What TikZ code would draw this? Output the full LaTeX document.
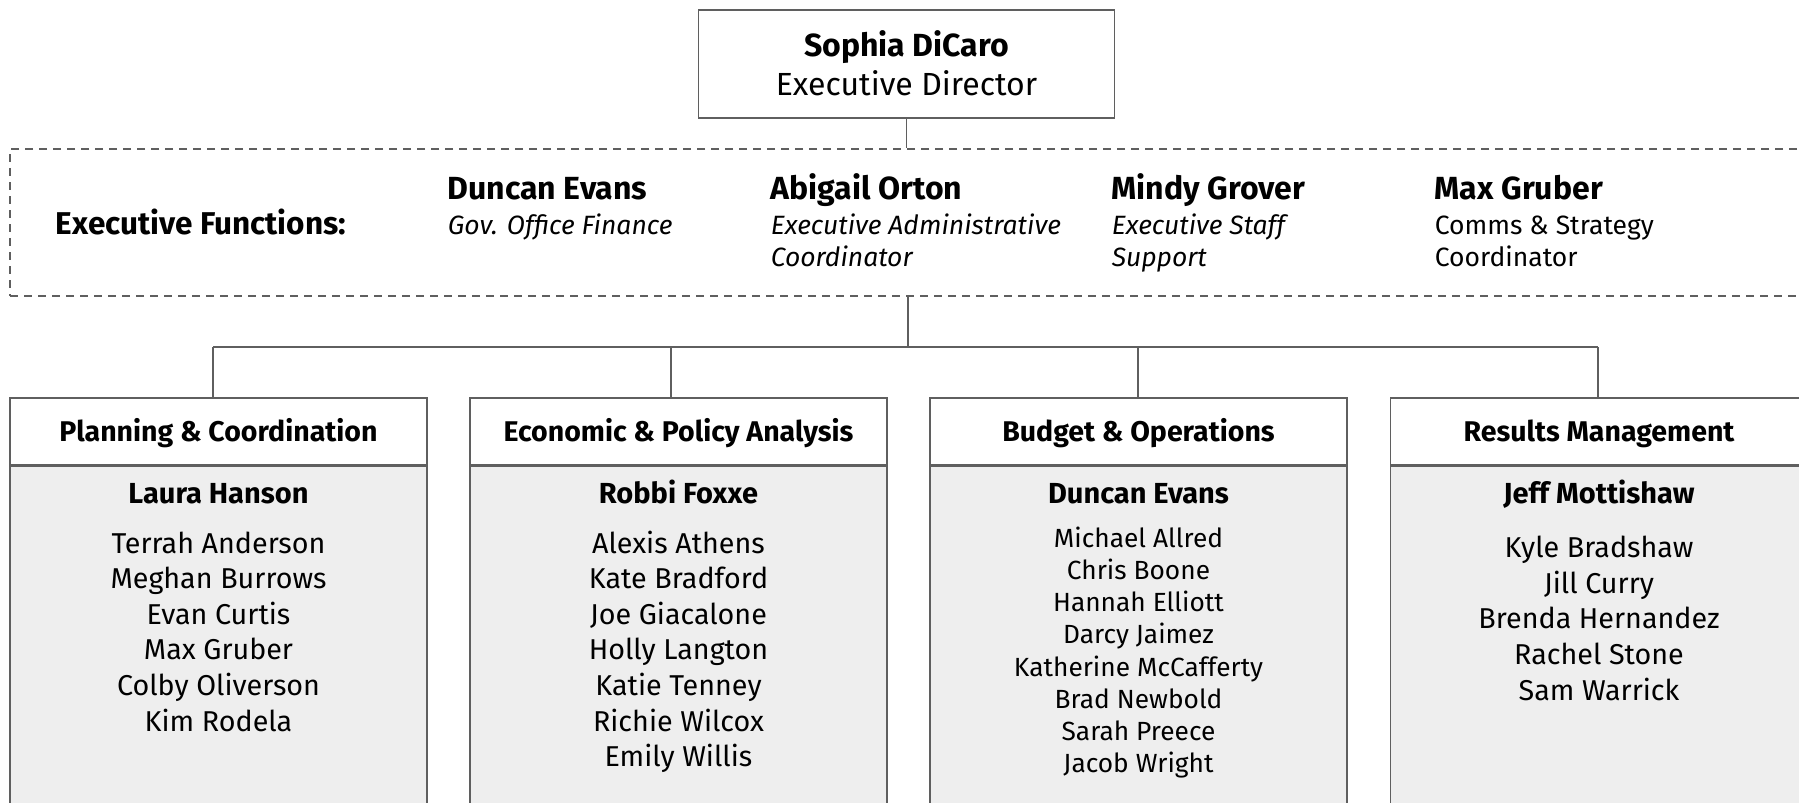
\documentclass[tikz,border=0pt]{standalone}
\usepackage{fontspec}
\setmainfont{Fira Sans}
\usetikzlibrary{positioning}
\definecolor{linegray}{HTML}{5F5F5F}
\definecolor{bodygray}{HTML}{EEEEEE}

\begin{document}
\begin{tikzpicture}[x=1pt, y=-1pt, line width=1.6pt,
    frame/.style={draw=linegray, inner sep=0pt},
    txt/.style={inner sep=0pt, text height=0.7em, text depth=0pt, yshift=-7pt},
    head/.style={frame, minimum width=417pt, minimum height=67pt, text height=20pt, text depth=0pt,
        font=\fontsize{28.5}{34}\selectfont\bfseries},
    body/.style={frame, fill=bodygray, minimum width=417pt, minimum height=380pt, anchor=north},
    lead/.style={txt, font=\fontsize{29}{34}\selectfont\bfseries},
    staff/.style={txt, font=\fontsize{28.7}{34}\selectfont},
    fname/.style={txt, anchor=west, font=\fontsize{32}{38}\selectfont\bfseries},
    frole/.style={txt, anchor=west, font=\fontsize{26.5}{32}\selectfont}]
    \useasboundingbox (0, 0) rectangle (1799, 803);

    % director
    \node[frame, minimum width=416pt, minimum height=108pt] (exec) at (906.5, 64) {};
    \node[txt, font=\fontsize{32}{38}\selectfont\bfseries] (execname) at (906.5, 46) {Sophia DiCaro};
    \node[txt, font=\fontsize{32}{38}\selectfont] (exectitle) at (906.5, 85) {Executive Director};

    % executive functions
    \node[frame, dash pattern=on 8pt off 6pt, minimum width=1800pt, minimum height=147pt] (funcs) at (910, 222.5) {};
    \node[txt, anchor=west, font=\fontsize{31.5}{36}\selectfont\bfseries] (funclabel) at (55, 224) {Executive Functions:};
    \node[fname] (f1) at (447, 189) {Duncan Evans};
    \node[frole] (f1a) at (447, 224) {\itshape Gov. Office Finance};
    \node[fname] (f2) at (770, 189) {Abigail Orton};
    \node[frole] (f2a) at (770, 224) {\itshape Executive Administrative};
    \node[frole] (f2b) at (770, 256) {\itshape Coordinator};
    \node[fname] (f3) at (1111, 189) {Mindy Grover};
    \node[frole] (f3a) at (1111, 224) {\itshape Executive Staff};
    \node[frole] (f3b) at (1111, 256) {\itshape Support};
    \node[fname] (f4) at (1434, 189) {Max Gruber};
    \node[frole] (f4a) at (1434, 224) {Comms \& Strategy};
    \node[frole] (f4b) at (1434, 256) {Coordinator};

    \draw[linegray] (exec.south) -- (exec.south |- funcs.north);
    \coordinate (bus) at (908, 347);
    \draw[linegray] (bus |- funcs.south) -- (bus);

    % departments
    \node[head] (hd1) at (218.5, 431.5) {Planning \& Coordination};
    \node[head] (hd2) at (678.5, 431.5) {Economic \& Policy Analysis};
    \node[head] (hd3) at (1138.5, 431.5) {Budget \& Operations};
    \node[head] (hd4) at (1599, 431.5) {Results Management};
    \foreach \d in {1,...,4} {
        \node[body] (bd\d) at (hd\d.south) {};
    }
    \draw[linegray] (213, 347) -- (1598, 347);
    \foreach \d/\x in {1/213, 2/671, 3/1138, 4/1598} {
        \draw[linegray] (\x, 347) -- (\x, 0 |- hd\d.north);
    }

    \node[lead] (ld1) at (218.5, 493) {Laura Hanson};
    \node[lead] (ld2) at (678.5, 493) {Robbi Foxxe};
    \node[lead] (ld3) at (1138.5, 493) {Duncan Evans};
    \node[lead] (ld4) at (1599, 493) {Jeff Mottishaw};

    \foreach \nm [count=\i] in {Terrah Anderson, Meghan Burrows, Evan Curtis,
        Max Gruber, Colby Oliverson, Kim Rodela}
        \node[staff] (sa\i) at (218.5, 507.1+35.57*\i) {\nm};
    \foreach \nm [count=\i] in {Alexis Athens, Kate Bradford, Joe Giacalone,
        Holly Langton, Katie Tenney, Richie Wilcox, Emily Willis}
        \node[staff] (sb\i) at (678.5, 507.1+35.57*\i) {\nm};
    \foreach \nm [count=\i] in {Michael Allred, Chris Boone, Hannah Elliott,
        Darcy Jaimez, Katherine McCafferty, Brad Newbold, Sarah Preece, Jacob Wright}
        \node[staff, font=\fontsize{26.3}{30}\selectfont] (sc\i) at (1138.5, 505+32.1*\i) {\nm};
    \foreach \nm [count=\i] in {Kyle Bradshaw, Jill Curry, Brenda Hernandez,
        Rachel Stone, Sam Warrick}
        \node[staff] (sd\i) at (1599, 511.7+35.57*\i) {\nm};
\end{tikzpicture}
\end{document}
